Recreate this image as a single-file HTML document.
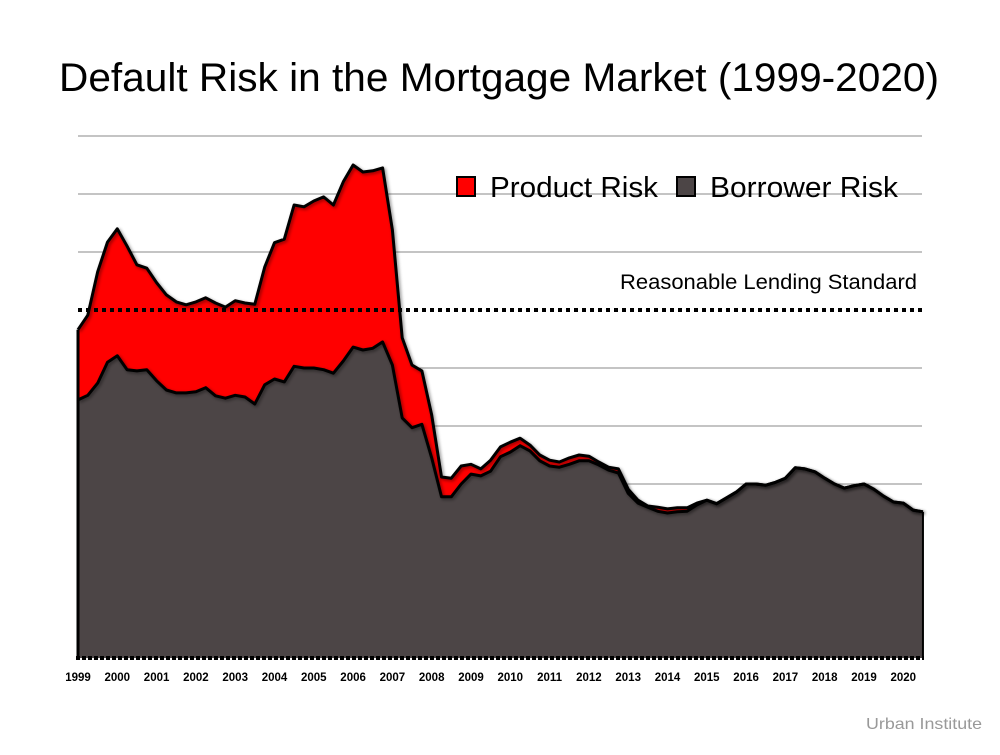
<!DOCTYPE html>
<html><head><meta charset="utf-8"><style>
body{margin:0;background:#fff;font-family:"Liberation Sans",sans-serif}
</style></head><body>
<svg width="1000" height="750" viewBox="0 0 1000 750">
<defs><filter id="sh" x="-5%" y="-5%" width="110%" height="110%"><feDropShadow dx="1.5" dy="1.5" stdDeviation="1.5" flood-color="#000" flood-opacity="0.45"/></filter></defs>
<text x="499" y="91" text-anchor="middle" font-size="40" textLength="880" lengthAdjust="spacingAndGlyphs" fill="#000">Default Risk in the Mortgage Market (1999-2020)</text>
<g id="grid"></g>
<g id="areas"></g>
<g id="axis"></g>
<g>
<rect x="457" y="177" width="18" height="19" fill="#ff0000" stroke="#000" stroke-width="2"/>
<text x="490" y="197" font-size="29" textLength="168" lengthAdjust="spacingAndGlyphs">Product Risk</text>
<rect x="677" y="177" width="18" height="19" fill="#4c4546" stroke="#000" stroke-width="2"/>
<text x="710" y="197" font-size="29" textLength="188" lengthAdjust="spacingAndGlyphs">Borrower Risk</text>
</g>
<text x="917" y="289" text-anchor="end" font-size="21" textLength="297" lengthAdjust="spacingAndGlyphs">Reasonable Lending Standard</text>
<text x="982" y="729" text-anchor="end" font-size="16" fill="#999" textLength="116" lengthAdjust="spacingAndGlyphs">Urban Institute</text>
</svg>
<script>
const years=[1999,2000,2001,2002,2003,2004,2005,2006,2007,2008,2009,2010,2011,2012,2013,2014,2015,2016,2017,2018,2019,2020];
const totalRisk=[5.66,5.91,6.66,7.17,7.40,7.10,6.78,6.72,6.47,6.26,6.14,6.09,6.14,6.21,6.12,6.05,6.16,6.12,6.10,6.74,7.16,7.22,7.81,7.78,7.88,7.95,7.81,8.21,8.50,8.38,8.40,8.45,7.38,5.52,5.05,4.95,4.19,3.12,3.10,3.31,3.34,3.26,3.41,3.64,3.72,3.79,3.67,3.50,3.41,3.38,3.45,3.50,3.48,3.38,3.29,3.26,2.91,2.72,2.62,2.60,2.57,2.59,2.59,2.67,2.72,2.66,2.76,2.86,3.00,3.00,2.98,3.03,3.10,3.28,3.26,3.21,3.10,3.00,2.93,2.97,3.00,2.91,2.79,2.69,2.67,2.55,2.52];
const borrowerRisk=[4.45,4.53,4.74,5.10,5.21,4.97,4.95,4.97,4.78,4.62,4.57,4.57,4.59,4.66,4.52,4.48,4.53,4.50,4.38,4.71,4.81,4.76,5.03,5.00,5.00,4.97,4.91,5.12,5.36,5.31,5.34,5.45,5.05,4.14,3.97,4.03,3.45,2.78,2.78,3.00,3.17,3.14,3.22,3.47,3.55,3.66,3.57,3.40,3.31,3.29,3.34,3.40,3.40,3.33,3.24,3.19,2.84,2.67,2.60,2.53,2.50,2.52,2.53,2.64,2.72,2.66,2.76,2.86,3.00,3.00,2.98,3.03,3.10,3.28,3.26,3.21,3.10,3.00,2.93,2.97,3.00,2.91,2.79,2.69,2.67,2.55,2.52];
const gridValues=[1,2,3,4,5,7,8,9];
const standardValue=6;
const NS='http://www.w3.org/2000/svg';
const x=t=>78+(t-1999)*39.3;
const y=v=>658-v*58;
const tq=i=>1999+i/4;
function mk(tag,attrs,parent){const e=document.createElementNS(NS,tag);for(const k in attrs)e.setAttribute(k,attrs[k]);parent.appendChild(e);return e;}
const grid=document.getElementById('grid'),areas=document.getElementById('areas'),axis=document.getElementById('axis');
gridValues.forEach(v=>{const l=mk('line',{x1:78,x2:922,y1:y(v),y2:y(v),stroke:'#8a8a8a','stroke-width':1},grid);

});
function areaPath(arr){let d='M'+x(tq(0))+','+y(0);arr.forEach((v,i)=>{d+='L'+x(tq(i)).toFixed(1)+','+y(v).toFixed(1);});d+='L'+x(tq(arr.length-1)).toFixed(1)+','+y(0)+'Z';return d;}
function linePath(arr){return arr.map((v,i)=>(i?'L':'M')+x(tq(i)).toFixed(1)+','+y(v).toFixed(1)).join('');}
const a1=mk('path',{d:areaPath(totalRisk),fill:'#ff0000'},areas);


const a2=mk('path',{d:areaPath(borrowerRisk),fill:'#4c4546'},areas);


const l1=mk('path',{d:linePath(totalRisk),fill:'none',stroke:'#000','stroke-width':3,'stroke-linejoin':'round',filter:'url(#sh)'},areas);


const l2=mk('path',{d:linePath(borrowerRisk),fill:'none',stroke:'#000','stroke-width':3,'stroke-linejoin':'round',filter:'url(#sh)'},areas);


const le=mk('line',{x1:x(1999),x2:x(1999),y1:y(totalRisk[0]),y2:y(0),stroke:'#000','stroke-width':3},areas);


const re=mk('line',{x1:x(tq(totalRisk.length-1)),x2:x(tq(totalRisk.length-1)),y1:y(totalRisk[totalRisk.length-1]),y2:y(0),stroke:'#000','stroke-width':2},areas);


const sd=mk('line',{x1:78,x2:922,y1:y(standardValue),y2:y(standardValue),stroke:'#000','stroke-width':4,'stroke-dasharray':'4 4'},areas);


const base=mk('line',{x1:76,x2:924,y1:y(0),y2:y(0),stroke:'#000','stroke-width':4,'stroke-dasharray':'4 2'},axis);


years.forEach(yr=>{const t=mk('text',{x:x(yr),y:681,'text-anchor':'middle','font-size':11.5,'font-weight':'bold'},axis);t.textContent=yr;

});
</script>
</body></html>
